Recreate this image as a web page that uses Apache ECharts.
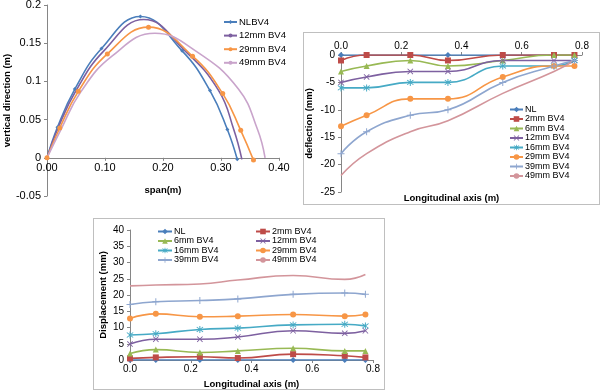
<!DOCTYPE html>
<html><head><meta charset="utf-8">
<script src="https://cdn.jsdelivr.net/npm/echarts@6/dist/echarts.min.js"></script>
<style>
html,body{margin:0;padding:0;background:#fff;width:600px;height:392px;overflow:hidden;}
.c{position:absolute;}
.b{position:absolute;border:1px solid #bfbfbf;box-sizing:border-box;pointer-events:none;}
</style></head>
<body>
<div id="c1" class="c" style="left:0;top:0;width:300px;height:212px;"></div>
<div id="c2" class="c" style="left:303px;top:32px;width:297px;height:173px;"></div>
<div id="c3" class="c" style="left:93px;top:218px;width:292px;height:172px;"></div>
<div class="b" style="left:303px;top:32px;width:297px;height:173px;"></div>
<div class="b" style="left:93px;top:218px;width:292px;height:172px;"></div>
<script>
// ---------- Panel 1 data (span vs vertical direction) ----------
const p1Names = ['NLBV4', '12mm BV4', '29mm BV4', '49mm BV4'];
const p1NL_x  = [0, 0.018, 0.048, 0.094, 0.161, 0.233, 0.281, 0.311, 0.328];
const p1NL_y  = [0, 0.040, 0.090, 0.143, 0.185, 0.140, 0.088, 0.037, -0.002];
const p1m12_x = [0, 0.019, 0.050, 0.098, 0.167, 0.238, 0.296, 0.322, 0.336];
const p1m12_y = [0, 0.039, 0.088, 0.140, 0.181, 0.140, 0.088, 0.037, -0.002];
const p1m29_x = [0, 0.022, 0.054, 0.104, 0.175, 0.251, 0.303, 0.334, 0.356];
const p1m29_y = [0, 0.039, 0.087, 0.136, 0.171, 0.133, 0.084, 0.036, -0.003];
const p1m49_x = [0, 0.024, 0.058, 0.112, 0.186, 0.258, 0.330, 0.363, 0.376];
const p1m49_y = [0, 0.037, 0.086, 0.133, 0.163, 0.139, 0.090, 0.037, 0];

// ---------- Shared longitudinal positions ----------
const longX = [0, 0.085, 0.23, 0.355, 0.537, 0.707, 0.775];
const seriesNames = ['NL', '2mm BV4', '6mm BV4', '12mm BV4', '16mm BV4', '29mm BV4', '39mm BV4', '49mm BV4'];

// ---------- Panel 2 data (deflection, mm) ----------
const defNL  = [0, 0, 0, 0, 0, 0, 0];
const def2   = [-1, 0, 0, -1, 0, 0, 0];
const def6   = [-3, -2, -1, -2, -1, 0, 0];
const def12  = [-5, -4, -3, -3, -1, -1, -1];
const def16  = [-6, -6, -5, -5, -2, -2, -1];
const def29  = [-13, -11, -8, -8, -4, -2, -2];
const def39  = [-18, -14, -11, -10, -5, -2, -1];
const def49  = [-22, -18, -14, -12, -7, -3, -1];

// ---------- Panel 3 data (displacement, mm) ----------
const dispNL = [0, 0, 0, 0, 0, 0, 0];
const disp2  = [0.5, 0.8, 1.0, 0.6, 1.8, 1.3, 0.8];
const disp6  = [2.0, 3.2, 2.3, 2.8, 3.6, 2.8, 2.8];
const disp12 = [4.9, 6.4, 6.4, 7.1, 9.0, 8.2, 9.0];
const disp16 = [7.7, 8.1, 9.4, 9.8, 10.8, 11.0, 10.5];
const disp29 = [12.8, 14.2, 13.3, 13.5, 14.0, 13.5, 14.0];
const disp39 = [17.1, 17.9, 18.3, 18.8, 20.2, 20.6, 20.2];
const disp49 = [22.8, 23.1, 23.4, 24.6, 26.0, 24.8, 26.3];

const FONT = "'Liberation Sans', Arial, sans-serif";
const AX = '#868686';
const colors = ['#4A7EBB', '#BE4B48', '#98B954', '#7D60A0', '#46AAC5', '#F79646', '#8EA6CF', '#D3959B'];
const X_SYM = 'path://M1,0L5,4L9,0L10,1L6,5L10,9L9,10L5,6L1,10L0,9L4,5L0,1Z';
const AST_SYM = 'path://M1,0L5,4L9,0L10,1L6,5L10,9L9,10L5,6L1,10L0,9L4,5L0,1Z M4.3,-1.5L5.7,-1.5L5.7,11.5L4.3,11.5Z';
const PLUS_SYM = 'path://M4.3,0H5.7V4.3H10V5.7H5.7V10H4.3V5.7H0V4.3H4.3Z';
const symbols = ['diamond', 'rect', 'triangle', X_SYM, AST_SYM, 'circle', PLUS_SYM, 'none'];
const symSizes = [6, 6, 6, 6, 7, 6, 7, 0];

function pairs(xs, ys) { return xs.map((x, i) => [x, ys[i]]); }

function axisCommon(fs) {
  return {
    nameMoveOverlap: false,
    axisLine: { lineStyle: { color: AX, width: 1 } },
    axisTick: { show: true, length: 3, lineStyle: { color: AX } },
    splitLine: { show: false },
    axisLabel: { color: '#000', fontSize: fs, fontFamily: FONT },
    nameTextStyle: { color: '#000', fontWeight: 'bold', fontSize: 9.5, fontFamily: FONT }
  };
}

// ---------- Chart 1 ----------
const c1 = echarts.init(document.getElementById('c1'));
const p1Data = [[p1NL_x, p1NL_y], [p1m12_x, p1m12_y], [p1m29_x, p1m29_y], [p1m49_x, p1m49_y]];
const p1Colors = ['#4A7EBB', '#7D60A0', '#F79646', '#C9A4CB'];
const p1Sym = ['diamond', 'none', 'circle', 'none'];
const p1SymSize = [4, 0, 5, 0];
const ax1x = axisCommon(11), ax1y = axisCommon(11);
const G1H = 191, Y1MIN = -0.05, Y1MAX = 0.2;
c1.setOption({
  animation: false,
  textStyle: { fontFamily: FONT },
  grid: { left: 47, top: 5, width: 232, height: G1H, outerBoundsMode: 'none', containLabel: false },
  legend: {
    orient: 'vertical', left: 218, top: 12, itemWidth: 13, itemHeight: 5, itemGap: 3.6,
    textStyle: { fontSize: 9.5, color: '#000', fontFamily: FONT, padding: [0, 0, 0, -3] },
    data: p1Names
  },
  xAxis: Object.assign(ax1x, {
    type: 'value', min: 0, max: 0.4, interval: 0.1, position: 'bottom',
    // axis sits on y = 0: shift it up from the grid bottom by the pixel height of [min, 0]
    offset: -G1H * (0 - Y1MIN) / (Y1MAX - Y1MIN),
    axisLine: { onZero: false, lineStyle: { color: AX, width: 1 } },
    name: 'span(m)', nameLocation: 'middle', nameGap: 28,
    axisLabel: Object.assign(ax1x.axisLabel, { formatter: v => v.toFixed(2), margin: 5 })
  }),
  yAxis: Object.assign(ax1y, {
    type: 'value', min: Y1MIN, max: Y1MAX, interval: 0.05,
    name: 'vertical direction (m)', nameLocation: 'middle', nameGap: 35, nameRotate: 90,
    axisLabel: Object.assign(ax1y.axisLabel, { margin: 6 })
  }),
  series: p1Names.map((n, i) => ({
    name: n, type: 'line', smooth: 0.45,
    data: pairs(p1Data[i][0], p1Data[i][1]),
    symbol: p1Sym[i], symbolSize: p1SymSize[i], showSymbol: p1Sym[i] !== 'none',
    itemStyle: { color: p1Colors[i] },
    lineStyle: { color: p1Colors[i], width: 1.6 }
  }))
});

// ---------- Chart 2 ----------
const c2 = echarts.init(document.getElementById('c2'));
const defAll = [defNL, def2, def6, def12, def16, def29, def39, def49];
const ax2x = axisCommon(10), ax2y = axisCommon(10);
c2.setOption({
  animation: false,
  textStyle: { fontFamily: FONT },
  grid: { left: 38, top: 23, width: 241, height: 137, outerBoundsMode: 'none', containLabel: false },
  legend: {
    orient: 'vertical', left: 201, top: 68, itemWidth: 13, itemHeight: 7, itemGap: 0.5,
    textStyle: { fontSize: 9, color: '#000', fontFamily: FONT, padding: [0, 0, 0, -3] },
    data: seriesNames
  },
  xAxis: Object.assign(ax2x, {
    type: 'value', min: 0, max: 0.8, interval: 0.2, position: 'top',
    axisLabel: Object.assign(ax2x.axisLabel, { formatter: v => v.toFixed(1), margin: 4 })
  }),
  yAxis: Object.assign(ax2y, {
    type: 'value', min: -25, max: 0, interval: 5,
    name: 'deflection (mm)', nameLocation: 'middle', nameGap: 27, nameRotate: 90,
    axisLabel: Object.assign(ax2y.axisLabel, { margin: 6 })
  }),
  graphic: [{
    type: 'text', left: 'center', top: 161,
    style: { text: 'Longitudinal axis (m)', font: "bold 9.5px " + FONT, fill: '#000' }
  }],
  series: seriesNames.map((n, i) => ({
    name: n, type: 'line', smooth: true,
    data: pairs(longX, defAll[i]),
    symbol: symbols[i], symbolSize: symSizes[i], showSymbol: symbols[i] !== 'none',
    itemStyle: { color: colors[i] },
    lineStyle: { color: colors[i], width: 1.6 }
  }))
});

// ---------- Chart 3 ----------
const c3 = echarts.init(document.getElementById('c3'));
const dispAll = [dispNL, disp2, disp6, disp12, disp16, disp29, disp39, disp49];
const ax3x = axisCommon(10), ax3y = axisCommon(10);
const legendText = { fontSize: 9, color: '#000', fontFamily: FONT, padding: [0, 0, 0, -3] };
c3.setOption({
  animation: false,
  textStyle: { fontFamily: FONT },
  grid: { left: 37, top: 12, width: 243, height: 130, outerBoundsMode: 'none', containLabel: false },
  legend: [
    { orient: 'vertical', left: 59, top: 4, itemWidth: 14, itemHeight: 7, itemGap: 0.5, textStyle: legendText,
      data: [seriesNames[0], seriesNames[2], seriesNames[4], seriesNames[6]] },
    { orient: 'vertical', left: 157, top: 4, itemWidth: 14, itemHeight: 7, itemGap: 0.5, textStyle: legendText,
      data: [seriesNames[1], seriesNames[3], seriesNames[5], seriesNames[7]] }
  ],
  xAxis: Object.assign(ax3x, {
    type: 'value', min: 0, max: 0.8, interval: 0.2,
    name: 'Longitudinal axis (m)', nameLocation: 'middle', nameGap: 19,
    axisLabel: Object.assign(ax3x.axisLabel, { formatter: v => v.toFixed(1), margin: 4 })
  }),
  yAxis: Object.assign(ax3y, {
    type: 'value', min: 0, max: 40, interval: 5,
    name: 'Displacement (mm)', nameLocation: 'middle', nameGap: 22, nameRotate: 90,
    axisLabel: Object.assign(ax3y.axisLabel, { margin: 6 })
  }),
  series: seriesNames.map((n, i) => ({
    name: n, type: 'line', smooth: true,
    data: pairs(longX, dispAll[i]),
    symbol: symbols[i], symbolSize: symSizes[i], showSymbol: symbols[i] !== 'none',
    itemStyle: { color: colors[i] },
    lineStyle: { color: colors[i], width: 1.6 }
  }))
});
</script>
</body></html>
